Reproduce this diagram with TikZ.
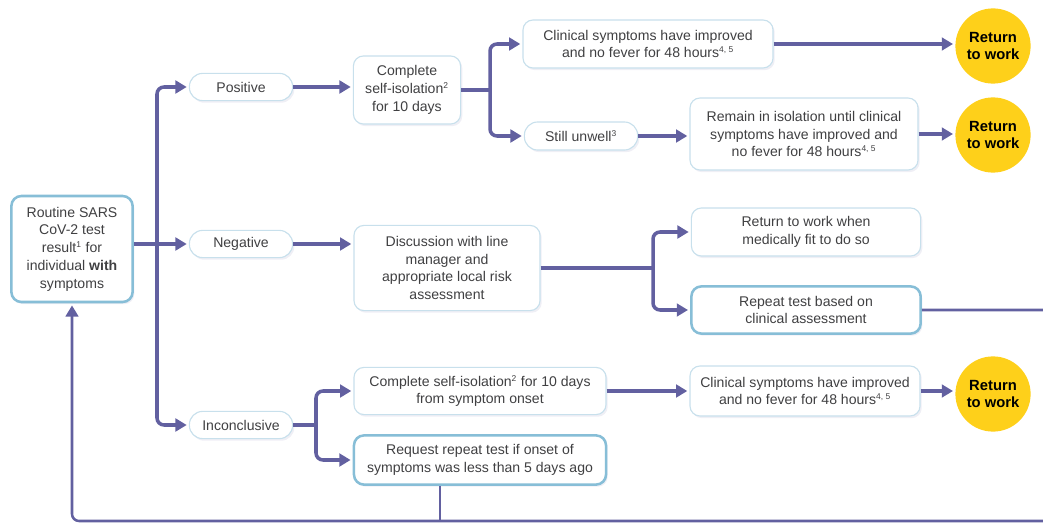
\documentclass[tikz,border=0pt]{standalone}
\usepackage{fontspec}
\setmainfont{Liberation Sans}
\usetikzlibrary{arrows.meta,calc,shadows}
\definecolor{LineClr}{RGB}{98,96,160}
\definecolor{EdgeClr}{RGB}{200,224,236}
\definecolor{KeyClr}{RGB}{135,190,215}
\definecolor{TxtClr}{RGB}{64,64,66}
\definecolor{GoClr}{RGB}{254,208,26}
\newcommand\fn[1]{\textsuperscript{\fontsize{6}{6}\selectfont #1}}

\begin{document}
\begin{tikzpicture}[x=0.025cm,y=-0.025cm,
  box/.style={draw=EdgeClr,line width=0.8pt,fill=white,rounded corners=0.25cm,
    align=center,inner sep=0pt,text=TxtClr,font=\fontsize{10}{12.6}\selectfont,
    drop shadow={shadow xshift=1.2pt,shadow yshift=-1.5pt,fill=LineClr!40,opacity=0.25}},
  keybox/.style={box,draw=KeyClr,line width=1.8pt},
  pill/.style={box,rounded corners=0.33cm,minimum width=2.58cm,minimum height=0.68cm},
  goal/.style={circle,fill=GoClr,minimum size=1.88cm,inner sep=0pt,align=center,
    font=\fontsize{10.5}{12.6}\selectfont\bfseries},
  link/.style={draw=LineClr,line width=2.5pt,rounded corners=5pt},
  flow/.style={link,-{Triangle[length=8pt,width=9pt]},shorten >=1.5pt}]

\useasboundingbox (0,0) rectangle (1043,524);

% Split points of the branches.
\coordinate (bus) at (157,0);
\coordinate (split1) at (490,0);
\coordinate (split2) at (653,0);
\coordinate (split3) at (316,0);
\coordinate (drop) at (440,0);
\coordinate (bottom) at (0,521);

% Start and the three results.
\node[keybox,minimum width=3.03cm,minimum height=2.65cm] (rout) at (72,249)
  {Routine SARS\\CoV-2 test\\result\fn{1} for\\individual \textbf{with}\\symptoms};
\node[pill] (pos) at (241,87) {Positive};
\node[pill] (neg) at (241,244) {Negative};
\node[pill] (inc) at (241,425) {Inconclusive};

% Positive branch.
\node[box,minimum width=2.68cm,minimum height=1.7cm] (iso) at (407,90)
  {Complete\\self-isolation\fn{2}\\for 10 days};
\node[box,minimum width=6.25cm,minimum height=1.2cm] (clin1) at (648,44)
  {Clinical symptoms have improved\\and no fever for 48 hours\fn{4, 5}};
\node[box,rounded corners=0.33cm,minimum width=2.83cm,minimum height=0.7cm] (unwell) at (581,136)
  {Still unwell\fn{3}};
\node[box,minimum width=5.7cm,minimum height=1.8cm] (remain) at (804,134)
  {Remain in isolation until clinical\\symptoms have improved and\\no fever for 48 hours\fn{4, 5}};
\node[goal] (ret1) at (993,46) {Return\\to work};
\node[goal] (ret2) at (993,135) {Return\\to work};

% Negative branch.
\node[box,minimum width=4.65cm,minimum height=2.13cm] (disc) at (447,268)
  {Discussion with line\\manager and\\appropriate local risk\\assessment};
\node[box,minimum width=5.73cm,minimum height=1.2cm] (fit) at (806,232)
  {Return to work when\\medically fit to do so};
\node[keybox,minimum width=5.73cm,minimum height=1.18cm] (rep) at (806,310)
  {Repeat test based on\\clinical assessment};

% Inconclusive branch.
\node[box,minimum width=6.3cm,minimum height=1.18cm] (iso2) at (480,391)
  {Complete self-isolation\fn{2} for 10 days\\from symptom onset};
\node[keybox,minimum width=6.3cm,minimum height=1.23cm] (req) at (480,460)
  {Request repeat test if onset of\\symptoms was less than 5 days ago};
\node[box,minimum width=5.75cm,minimum height=1.25cm] (clin2) at (805,391)
  {Clinical symptoms have improved\\and no fever for 48 hours\fn{4, 5}};
\node[goal] (ret3) at (993,394) {Return\\to work};

% Connectors from the start.
\draw[flow] (rout.east |- neg.west) -- (neg.west);
\draw[flow] (bus |- neg.west) |- (pos.west);
\draw[flow] (bus |- neg.west) |- (inc.west);

\draw[flow] (pos.east) -- (pos.east -| iso.west);
\draw[link] (iso.east) -- (split1 |- iso.east);
\draw[flow] (split1 |- iso.east) |- (clin1.west);
\draw[flow] (split1 |- iso.east) |- (unwell.west);
\draw[flow] (clin1.east) -- (clin1.east -| ret1.west);
\draw[flow] (unwell.east) -- (unwell.east -| remain.west);
\draw[flow] (remain.east) -- (remain.east -| ret2.west);

\draw[flow] (neg.east) -- (neg.east -| disc.west);
\draw[link] (disc.east) -- (split2 |- disc.east);
\draw[flow] (split2 |- disc.east) |- (fit.west);
\draw[flow] (split2 |- disc.east) |- (rep.west);

\draw[link] (inc.east) -- (split3 |- inc.east);
\draw[flow] (split3 |- inc.east) |- (iso2.west);
\draw[flow] (split3 |- inc.east) |- (req.west);
\draw[flow] (iso2.east) -- (iso2.east -| clin2.west);
\draw[flow] (clin2.east) -- (clin2.east -| ret3.west);

% Back to a new test.
\draw[flow,line width=1.8pt] (rep.east) -- ++(140,0) |- (rout.south |- bottom) -- (rout.south);
\draw[link,line width=1.8pt] (req.south -| drop) -- (drop |- bottom);

\end{tikzpicture}
\end{document}
